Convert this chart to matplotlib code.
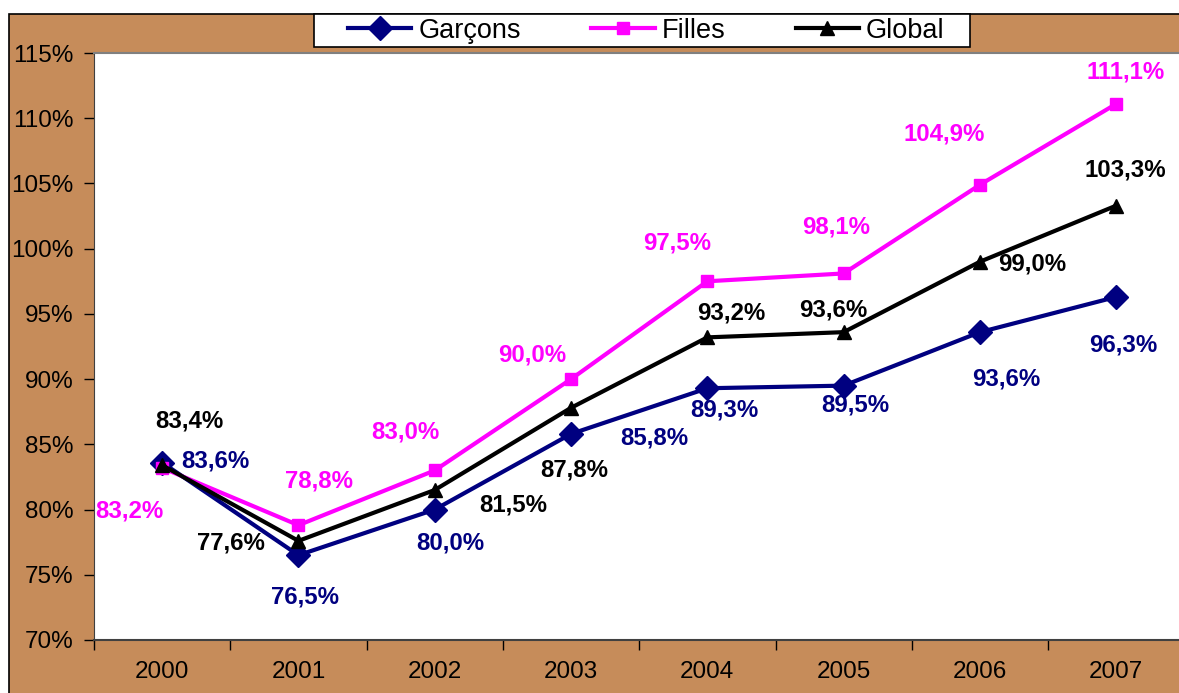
import matplotlib
matplotlib.use("Agg")
import matplotlib.pyplot as plt
from matplotlib.patches import Rectangle
from matplotlib.ticker import FuncFormatter

plt.rcParams['font.family'] = ['Liberation Sans', 'DejaVu Sans']

# ---- data ----
years = ['2000', '2001', '2002', '2003', '2004', '2005', '2006', '2007']
garcons = [83.6, 76.5, 80.0, 85.8, 89.3, 89.5, 93.6, 96.3]
filles = [83.2, 78.8, 83.0, 90.0, 97.5, 98.1, 104.9, 111.1]
global_ = [83.4, 77.6, 81.5, 87.8, 93.2, 93.6, 99.0, 103.3]
yticks = [70, 75, 80, 85, 90, 95, 100, 105, 110, 115]

# ---- label offsets (pixels, dx right, dy down) ----
off_g = [(53, -2), (7, 42), (16, 33), (83, 4), (17, 22), (12, 19), (26, 47), (7, 48)]
off_f = [(-33, 43), (21, -44), (-29, -38), (-39, -24), (-30, -38), (-8, -46), (-36, -51), (9, -32)]
off_o = [(27, -44), (-68, 2), (78, 15), (3, 62), (24, -24), (-10, -22), (52, 2), (9, -36)]

W, H = 1179, 693
fig = plt.figure(figsize=(W / 100, H / 100), dpi=100)
fig.patch.set_facecolor('white')

wood = '#C68C5A'
bg = fig.add_axes([0, 0, 1, 1], zorder=-5)
bg.set_axis_off()
bg.set_xlim(0, W)
bg.set_ylim(H, 0)
bg.add_patch(Rectangle((9, 14), W, H, facecolor=wood, edgecolor='black', linewidth=1.2))
# legend frame
bg.add_patch(Rectangle((314, 14), 656, 33, facecolor='white', edgecolor='black',
                       linewidth=1.2, zorder=10))

left, right, top, bottom = 94, 94 + 8 * 136.3, 53, 640
ax = fig.add_axes([left / W, 1 - bottom / H, (right - left) / W, (bottom - top) / H])
ax.set_facecolor('white')

x = list(range(len(years)))
series = [
    (garcons, '#000080', 'D', 12, 'Garçons', off_g),
    (filles, '#FF00FF', 's', 9, 'Filles', off_f),
    (global_, '#000000', '^', 10, 'Global', off_o),
]
for vals, col, mk, ms, name, offs in series:
    ax.plot(x, vals, color=col, lw=3, marker=mk, markersize=ms,
            markerfacecolor=col, markeredgecolor=col, label=name, zorder=3)

for vals, col, mk, ms, name, offs in series:
    for i, v in enumerate(vals):
        ax.annotate(f"{v:.1f}%".replace('.', ','), (i, v),
                    xytext=(offs[i][0], -offs[i][1]), textcoords='offset pixels',
                    ha='center', va='center', fontsize=17.3, fontweight='bold',
                    color=col, zorder=4)

ax.set_xlim(-0.5, 7.5)
ax.set_ylim(70, 115)
ax.set_yticks(yticks)
ax.yaxis.set_major_formatter(FuncFormatter(lambda v, p: f"{v:.0f}%"))
ax.tick_params(axis='y', direction='out', length=7, width=1, pad=8, labelsize=17.5)

ax.set_xticks([i - 0.5 for i in range(len(years) + 1)])
ax.set_xticklabels([])
ax.set_xticks(x, minor=True)
ax.set_xticklabels(years, minor=True)
ax.tick_params(axis='x', which='major', direction='out', length=7, width=1)
ax.tick_params(axis='x', which='minor', length=0, pad=15, labelsize=17.5)

for s in ['top', 'right']:
    ax.spines[s].set_color('#808080')
    ax.spines[s].set_linewidth(1.5)
ax.spines['left'].set_color('#404040')
ax.spines['bottom'].set_color('#404040')
ax.spines['bottom'].set_linewidth(1.5)

leg = fig.legend(loc='upper left', bbox_to_anchor=(345 / W, 1 - 15 / H), ncol=3,
                 fontsize=19.5, handlelength=2.35, handletextpad=0.25,
                 columnspacing=2.6, borderpad=0.1, borderaxespad=0,
                 frameon=False)
leg.set_zorder(20)

fig.savefig('out.png', dpi=100, facecolor='white')
